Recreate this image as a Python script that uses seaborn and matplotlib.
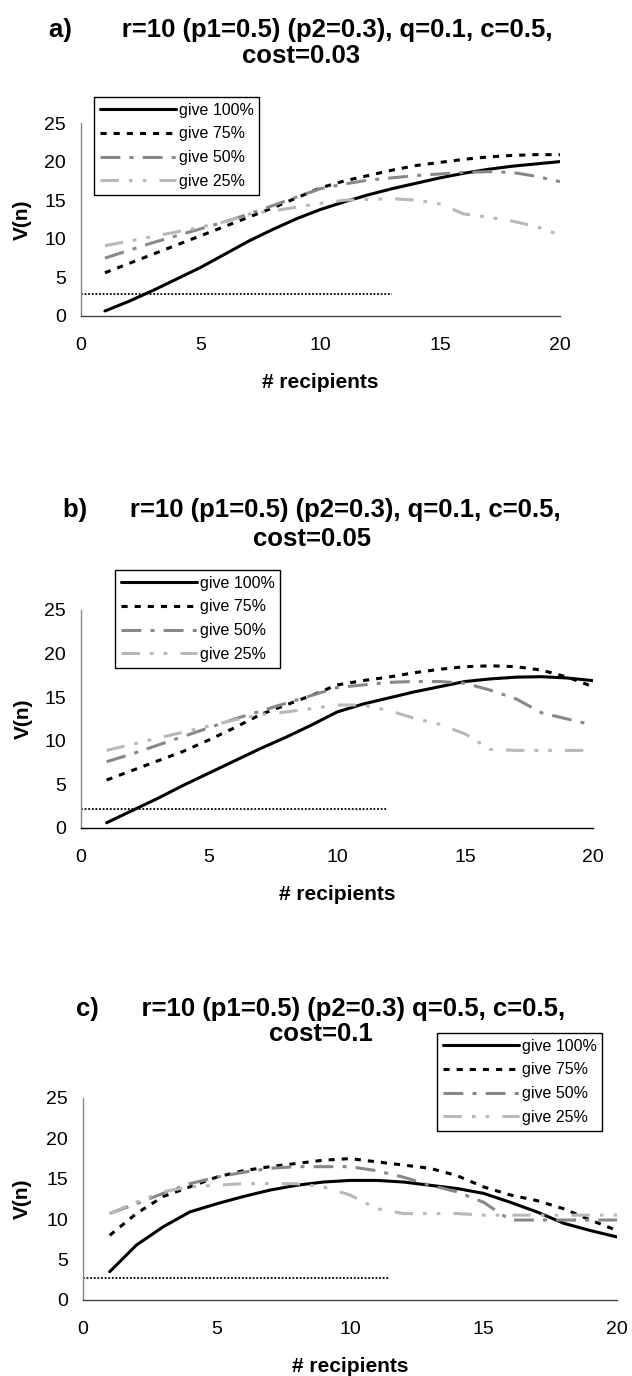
import matplotlib
matplotlib.use("Agg")
import matplotlib.pyplot as plt
import pandas as pd
import seaborn as sns

sns.set_style("white")
plt.rcParams['font.family'] = ['Liberation Sans', 'DejaVu Sans']
plt.rcParams['text.color'] = 'black'
plt.rcParams['axes.labelcolor'] = 'black'
plt.rcParams['xtick.color'] = 'black'
plt.rcParams['ytick.color'] = 'black'

# ---- data ----
recipients = list(range(1, 21))
series_names = ["give 100%", "give 75%", "give 50%", "give 25%"]

# a) q=0.1, cost=0.03
a_give100 = [0.65, 1.9, 3.3, 4.8, 6.3, 8.0, 9.7, 11.2, 12.6, 13.8, 14.8, 15.7, 16.5, 17.2, 17.9, 18.5, 19.0, 19.4, 19.7, 20.0]
a_give75 = [5.6, 6.8, 8.0, 9.2, 10.4, 11.6, 12.8, 14.0, 15.3, 16.6, 17.5, 18.2, 18.9, 19.5, 19.9, 20.3, 20.6, 20.8, 20.9, 20.9]
a_give50 = [7.5, 8.5, 9.5, 10.4, 11.3, 12.2, 13.2, 14.3, 15.4, 16.5, 17.1, 17.6, 17.9, 18.2, 18.4, 18.6, 18.7, 18.6, 18.1, 17.4]
a_give25 = [9.1, 9.7, 10.3, 10.9, 11.5, 12.2, 13.2, 13.6, 14.1, 14.6, 15.0, 15.1, 15.2, 15.0, 14.5, 13.2, 12.8, 12.3, 11.6, 10.5]

# b) q=0.1, cost=0.05
b_give100 = [0.6, 2.0, 3.4, 4.9, 6.3, 7.7, 9.1, 10.4, 11.8, 13.3, 14.2, 14.9, 15.6, 16.2, 16.8, 17.1, 17.3, 17.35, 17.2, 16.9]
b_give75 = [5.5, 6.6, 7.7, 8.8, 10.1, 11.5, 13.0, 14.1, 15.2, 16.4, 16.9, 17.3, 17.8, 18.2, 18.5, 18.6, 18.5, 18.1, 17.3, 16.2]
b_give50 = [7.6, 8.5, 9.5, 10.5, 11.5, 12.5, 13.4, 14.3, 15.2, 16.1, 16.4, 16.7, 16.8, 16.8, 16.6, 15.8, 14.8, 13.2, 12.5, 11.8]
b_give25 = [8.9, 9.6, 10.3, 11.0, 11.7, 12.4, 13.0, 13.3, 13.7, 14.1, 14.1, 13.5, 12.6, 11.9, 10.8, 9.0, 8.9, 8.9, 8.9, 8.9]

# c) q=0.5, cost=0.1
c_give100 = [3.5, 6.8, 9.05, 10.9, 11.9, 12.8, 13.6, 14.2, 14.6, 14.8, 14.8, 14.6, 14.2, 13.8, 13.2, 12.1, 10.9, 9.5, 8.6, 7.8]
c_give75 = [8.0, 10.7, 12.8, 14.0, 15.2, 16.0, 16.5, 16.9, 17.3, 17.5, 17.1, 16.7, 16.3, 15.4, 14.0, 13.0, 12.3, 11.3, 9.9, 8.6]
c_give50 = [10.7, 11.9, 13.2, 14.4, 15.2, 15.8, 16.3, 16.5, 16.5, 16.5, 16.0, 15.2, 14.2, 13.4, 12.1, 9.9, 9.9, 9.9, 9.9, 9.9]
c_give25 = [10.7, 12.1, 13.4, 14.0, 14.2, 14.4, 14.4, 14.4, 14.0, 13.0, 11.3, 10.7, 10.7, 10.7, 10.5, 10.5, 10.5, 10.5, 10.5, 10.5]

# dotted reference line (level, x where it stops)
cutoff_level = [2.8, 2.15, 2.7]
cutoff_end = [13, 12, 11.5]

title_line1 = ["a)       r=10 (p1=0.5) (p2=0.3), q=0.1, c=0.5,",
               "b)      r=10 (p1=0.5) (p2=0.3), q=0.1, c=0.5,",
               "c)      r=10 (p1=0.5) (p2=0.3) q=0.5, c=0.5,"]
title_line2 = ["cost=0.03", "cost=0.05", "cost=0.1"]

panels = [
    [a_give100, a_give75, a_give50, a_give25],
    [b_give100, b_give75, b_give50, b_give25],
    [c_give100, c_give75, c_give50, c_give25],
]

# ---- styles ----
colors = {"give 100%": "black", "give 75%": "black", "give 50%": "#888888", "give 25%": "#b8b8b8"}
dashes = {"give 100%": "", "give 75%": (2, 2.3),
          "give 50%": (6.5, 3, 1.3, 3),
          "give 25%": (6, 3.3, 1.2, 3.3, 1.2, 4.3)}

W, H = 632, 1376
# axes box in pixels: left, top(y=25), right(x=20), bottom(y=0)
ax_px = [(81, 123, 560, 316), (81, 610, 593, 828), (83, 1098, 617, 1300)]
legend_px = [(94, 97), (115, 570), (437, 1033)]
title_x = [301, 312, 321]
title_base = [(37, 63), (517, 546), (1016, 1041)]
xlabel_y = [383, 895, 1367]
ylabel_x = [22, 23, 22]

fig = plt.figure(figsize=(W / 100, H / 100), dpi=100)

for i, values in enumerate(panels):
    l, t, r, b = ax_px[i]
    ax = fig.add_axes([l / W, 1 - b / H, (r - l) / W, (b - t) / H])

    df = pd.DataFrame({
        "n": recipients * 4,
        "V": sum(values, []),
        "series": [s for s in series_names for _ in recipients],
    })
    sns.lineplot(data=df, x="n", y="V", hue="series", style="series",
                 hue_order=series_names, style_order=series_names,
                 palette=colors, dashes=dashes, linewidth=2.2,
                 legend=False, ax=ax)

    ax.hlines(cutoff_level[i], 0, cutoff_end[i], colors="black",
              linestyles=(0, (1, 1)), linewidth=1.3)

    ax.set_xlim(0, 20)
    ax.set_ylim(0, 25)
    ax.set_xticks([0, 5, 10, 15, 20])
    ax.set_yticks([0, 5, 10, 15, 20, 25])
    ax.tick_params(axis="x", direction="inout", length=9, width=0.9,
                   color="#555555", labelcolor="black", pad=10.5, labelsize=14)
    ax.tick_params(axis="y", direction="inout", length=8.6, width=0.9,
                   color="#888888", labelcolor="black", pad=6.5, labelsize=14)
    for side in ["top", "right"]:
        ax.spines[side].set_visible(False)
    ax.spines["bottom"].set_color("#444444" if i != 1 else "black")
    ax.spines["left"].set_color("#888888")
    ax.spines["bottom"].set_linewidth(1.0)
    ax.spines["left"].set_linewidth(1.0)

    ax.set_xlabel("# recipients", fontsize=15, fontweight="bold", color="black")
    ax.set_ylabel("V(n)", fontsize=15, fontweight="bold", color="black")
    ax.xaxis.set_label_coords(0.5, (b - xlabel_y[i]) / (b - t))
    ax.xaxis.label.set_va("center")
    ax.yaxis.set_label_coords((ylabel_x[i] - l) / (r - l), 0.5)
    ax.yaxis.label.set_va("center")

    leg = ax.legend(ax.lines[:4], series_names, loc="upper left",
                    bbox_to_anchor=(legend_px[i][0] / W, 1 - legend_px[i][1] / H),
                    bbox_transform=fig.transFigure, borderaxespad=0,
                    frameon=True, fancybox=False, framealpha=1,
                    edgecolor="black", fontsize=11.5, handlelength=4.8,
                    handletextpad=0.15, labelspacing=0.55, borderpad=0.35)
    leg.get_frame().set_linewidth(1.0)
    for txt in leg.get_texts():
        txt.set_color("black")

    fig.text(title_x[i] / W, 1 - title_base[i][0] / H, title_line1[i],
             ha="center", va="baseline", fontsize=18.5, fontweight="bold", color="black")
    fig.text(title_x[i] / W, 1 - title_base[i][1] / H, title_line2[i],
             ha="center", va="baseline", fontsize=18.5, fontweight="bold", color="black")

fig.savefig("out.png", dpi=100)
